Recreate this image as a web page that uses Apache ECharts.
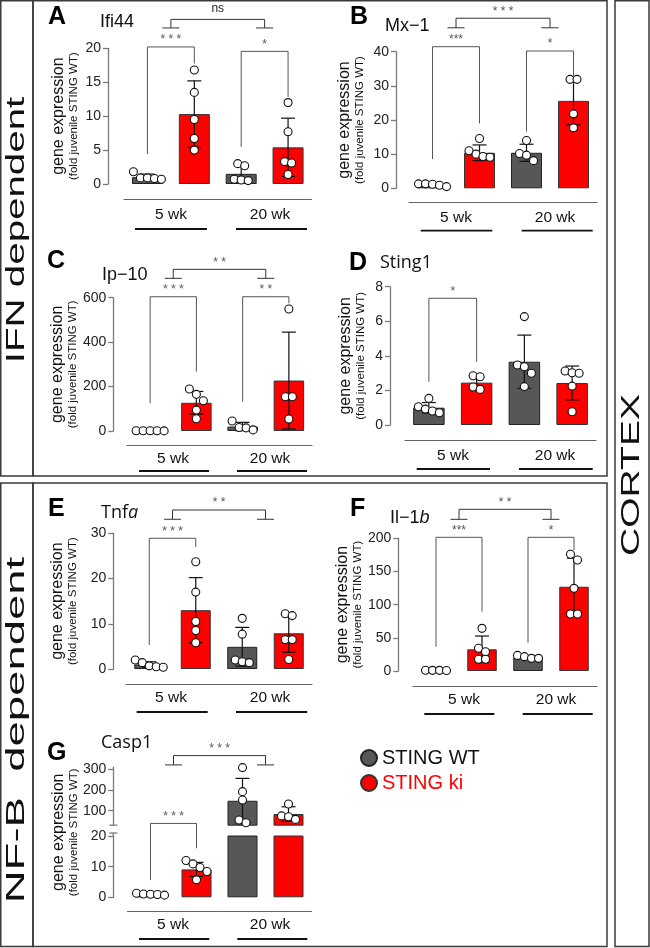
<!DOCTYPE html>
<html><head><meta charset="utf-8">
<script src="https://cdn.jsdelivr.net/npm/echarts@6/dist/echarts.min.js"></script>
<style>html,body{margin:0;padding:0;background:#fff}#c{width:650px;height:948px}</style>
</head><body><div id="c"></div>
<script>
// ---------------- DATA ----------------
const groups = ['WT 5 wk', 'ki 5 wk', 'WT 20 wk', 'ki 20 wk'];
const ageLabels = ['5 wk', '20 wk'];
const legendNames = ['STING WT', 'STING ki'];

const ifi44Mean = [1.0, 10.3, 1.5, 5.4];
const ifi44Sd = [0.45, 4.9, 1.2, 4.3];
const ifi44Pts = [[1.8, 0.9, 0.8, 0.7, 0.9], [16.8, 13.5, 9.5, 6.7, 5.0], [3.0, 2.7, 0.5, 0.7, 0.6], [12.0, 7.7, 3.3, 3.1, 1.4]];

const mx1Mean = [1.0, 10.4, 10.4, 25.6];
const mx1Sd = [0.4, 2.3, 2.5, 7.0];
const mx1Pts = [[0.9, 1.3, 1.2, 1.3, 0.5], [14.6, 11.0, 9.1, 10.0, 9.3], [14.0, 10.2, 9.7, 8.1], [31.9, 31.9, 21.8, 17.7]];

const ip10Mean = [1, 127, 20, 227];
const ip10Sd = [0.5, 51, 19, 218];
const ip10Pts = [[0.5, 1.2, 0.8, 1.3, 1.1], [189, 165, 136, 94, 55], [5, 45, 16, 14], [549, 154, 154, 54]];

const sting1Mean = [1.0, 2.45, 3.66, 2.43];
const sting1Sd = [0.3, 0.41, 1.54, 0.98];
const sting1Pts = [[0.71, 1.06, 1.54, 0.81, 0.92], [2.79, 2.85, 2.06, 2.2], [6.27, 3.37, 3.47, 2.99, 2.22], [3.02, 3.12, 2.99, 2.25, 0.77]];

const tnfaMean = [1.0, 13.0, 4.9, 7.9];
const tnfaSd = [0.6, 7.2, 4.3, 4.2];
const tnfaPts = [[2.0, 0.4, 1.4, 0.5, 0.7], [23.7, 17.0, 10.5, 8.5, 5.8], [11.2, 7.7, 1.6, 2.0, 1.4], [12.2, 11.8, 6.5, 6.5, 2.1]];

const il1bMean = [1, 32.7, 20, 127];
const il1bSd = [0.3, 20, 2.5, 43];
const il1bPts = [[0.8, 1.2, 1.0, 1.0], [64.3, 29.1, 34.2, 17.6, 17.6], [19.1, 23.5, 21.6, 19.1], [175.9, 167.3, 124.6, 85.9, 85.9]];

const casp1Mean = [1.0, 9.1, 148, 84];
const casp1Sd = [0.3, 2.3, 108, 35];
const casp1Pts = [[0.7, 1.0, 1.3, 1.1, 0.9], [10.9, 12.0, 9.7, 8.4, 5.7], [308, 192, 152, 42, 55], [132, 58, 71, 75]];

// significance annotations (values in data units)
const ifi44Sig = [
  {kind: 'pair', a: 0, b: 1, top: 20.2, la: 4.4, lb: 17.75, label: '* * *'},
  {kind: 'pair', a: 2, b: 3, top: 19.55, la: 5.5, lb: 12.8, label: '*'},
  {kind: 'T', a: [0, 1], b: [2, 3], base: 23.0, top: 24.26, label: 'ns'}];
const mx1Sig = [
  {kind: 'pair', a: 0, b: 1, top: 41.46, la: 8.58, lb: 19.0, label: '***'},
  {kind: 'pair', a: 2, b: 3, top: 40.2, la: 16.6, lb: 32.9, label: '*'},
  {kind: 'T', a: [0, 1], b: [2, 3], base: 47.0, top: 49.8, label: '* * *'}];
const ip10Sig = [
  {kind: 'pair', a: 0, b: 1, top: 604.4, la: 124.7, lb: 266.9, label: '* * *'},
  {kind: 'pair', a: 2, b: 3, top: 604.4, la: 131.9, lb: 574.7, label: '* *'},
  {kind: 'T', a: [0, 1], b: [2, 3], base: 687.2, top: 727.7, label: '* *'}];
const sting1Sig = [
  {kind: 'pair', a: 0, b: 1, top: 7.33, la: 2.5, lb: 3.66, label: '*'}];
const tnfaSig = [
  {kind: 'pair', a: 0, b: 1, top: 28.9, la: 5.3, lb: 27.0, label: '* * *'},
  {kind: 'T', a: [0, 1], b: [2, 3], base: 33.1, top: 35.15, label: '* *'}];
const il1bSig = [
  {kind: 'pair', a: 0, b: 1, top: 201.5, la: 36.6, lb: 89.4, label: '***'},
  {kind: 'pair', a: 2, b: 3, top: 201.5, la: 42.7, lb: 182.4, label: '*'},
  {kind: 'T', a: [0, 1], b: [2, 3], base: 228.6, top: 243.7, label: '* *'}];
const casp1SigLow = [
  {kind: 'pair', a: 0, b: 1, top: 24.1, la: 5.6, lb: 16.0, label: '* * *'}];
const casp1SigHigh = [
  {kind: 'T', a: [0, 1], b: [2, 3], base: 321, top: 366, label: '* * *'}];

// ---------------- STYLE / LAYOUT ----------------
const FONT = '"Liberation Sans", Arial, Helvetica, sans-serif';
const FONT2 = '"Open Sans", "Liberation Sans", Arial, sans-serif';
const WT_COLOR = '#575757';
const KI_COLOR = '#ff0000';
const AXIS_COLOR = '#7a7a7a';

const panels = [
  {letter: 'A', gene: 'Ifi44', gf: FONT, mean: ifi44Mean, sd: ifi44Sd, pts: ifi44Pts, sig: ifi44Sig, max: 20, step: 5,
   axisX: 108, gl: 124, gr: 311.5, gt: 48.3, gb: 184, xOff: 15.3, bw: 31, nameGap: 27,
   letterPos: [48, 17], genePos: [100, 22], ageY: 215, ageX: [171, 270], ulY: 229, ul: [[135, 207], [236, 307]]},
  {letter: 'B', gene: 'Mx\u22121', gf: FONT, mean: mx1Mean, sd: mx1Sd, pts: mx1Pts, sig: mx1Sig, max: 40, step: 10,
   axisX: 396, gl: 409, gr: 597, gt: 51.7, gb: 188.3, xOff: 14, bw: 31, nameGap: 29,
   letterPos: [350, 17], genePos: [385, 26], ageY: 218, ageX: [456, 555], ulY: 230.7, ul: [[420.7, 492.3], [521.7, 592.7]]},
  {letter: 'C', gene: 'Ip\u221210', gf: FONT, mean: ip10Mean, sd: ip10Sd, pts: ip10Pts, sig: ip10Sig, max: 600, step: 200,
   axisX: 113.3, gl: 127, gr: 312, gt: 297.7, gb: 431, xOff: 14.7, bw: 30.5, nameGap: 33,
   letterPos: [47, 261], genePos: [102, 275], ageY: 459, ageX: [173, 270], ulY: 471, ul: [[139, 209], [237, 307]]},
  {letter: 'D', gene: 'Sting1', gf: FONT2, mean: sting1Mean, sd: sting1Sd, pts: sting1Pts, sig: sting1Sig, max: 8, step: 2,
   axisX: 390, gl: 405, gr: 596, gt: 286.7, gb: 425, xOff: 15.7, bw: 31.5, nameGap: 22,
   letterPos: [349, 263], genePos: [380, 263], ageY: 456, ageX: [453, 555], ulY: 469, ul: [[416.7, 490], [519, 592.7]]},
  {letter: 'E', gene: '{n|Tnf}{i|a}', gf: FONT2, mean: tnfaMean, sd: tnfaSd, pts: tnfaPts, sig: tnfaSig, max: 30, step: 10,
   axisX: 113.3, gl: 126, gr: 312, gt: 533.3, gb: 669, xOff: 15, bw: 30, nameGap: 33,
   letterPos: [48, 509], genePos: [101, 513], ageY: 698, ageX: [171, 270], ulY: 712, ul: [[136.7, 207.7], [236, 307.3]]},
  {letter: 'F', gene: '{n|Il\u22121}{i|b}', gf: FONT, mean: il1bMean, sd: il1bSd, pts: il1bPts, sig: il1bSig, max: 200, step: 50,
   axisX: 398.3, gl: 413, gr: 597, gt: 538.3, gb: 671, xOff: 15, bw: 29.5, nameGap: 31,
   letterPos: [350, 509], genePos: [390, 518], ageY: 700, ageX: [464, 556], ulY: 714, ul: [[424.3, 494.3], [522.7, 592.7]]},
  {letter: 'G', gene: 'Casp1', gf: FONT2, mean: casp1Mean, sd: casp1Sd, pts: casp1Pts, broken: true,
   axisX: 113.3, gl: 127.5, gr: 311.5, xOff: 13.7, bw: 30,
   upper: {min: 30, max: 310, ticks: [100, 200, 300], gt: 767.2, gb: 825.2, groups: [2, 3], sig: casp1SigHigh},
   lower: {max: 20, step: 10, gt: 836, gb: 897.3, groups: [0, 1], sig: casp1SigLow},
   letterPos: [47, 753], genePos: [101, 743], ageY: 925, ageX: [173, 270], ulY: 939, ul: [[139, 209.3], [237.3, 307.3]]}
];

// ---------------- RENDER HELPERS ----------------
function errRender(p) {
  return function (params, api) {
    const k = api.value(0);
    const m = p.mean[k], s = p.sd[k];
    const hi = api.coord([k, m + s]), lo = api.coord([k, Math.max(m - s, 0)]);
    const w = 7, st = {stroke: '#111', lineWidth: 1.2};
    return {type: 'group', children: [
      {type: 'line', shape: {x1: hi[0], y1: hi[1], x2: lo[0], y2: lo[1]}, style: st},
      {type: 'line', shape: {x1: hi[0] - w, y1: hi[1], x2: hi[0] + w, y2: hi[1]}, style: st},
      {type: 'line', shape: {x1: lo[0] - w, y1: lo[1], x2: lo[0] + w, y2: lo[1]}, style: st}
    ]};
  };
}
function ptsRender(p) {
  const step = 7;
  return function (params, api) {
    const k = api.value(0);
    const vals = p.pts[k];
    const cx = api.coord([k, 0])[0];
    const ys = vals.map(v => api.coord([k, v])[1]);
    const order = ys.map((y, i) => i).sort((a, b) => ys[a] - ys[b]);
    const clusters = []; let cur = [];
    order.forEach(i => {
      if (cur.length && ys[i] - ys[cur[cur.length - 1]] >= step) { clusters.push(cur); cur = []; }
      cur.push(i);
    });
    if (cur.length) clusters.push(cur);
    const children = [];
    clusters.forEach(c => c.forEach((i, j) => {
      const dx = (j - (c.length - 1) / 2) * step;
      children.push({type: 'circle', shape: {cx: cx + dx, cy: ys[i], r: 4},
        style: {fill: '#fff', stroke: '#111', lineWidth: 1.1}});
    }));
    return {type: 'group', children: children};
  };
}
function sigText(x, y, label) {
  const isNs = label === 'ns';
  return {type: 'text', style: {text: label, x: x, y: isNs ? y - 11 : y - 7,
    align: 'center', verticalAlign: 'middle', textAlign: 'center', textVerticalAlign: 'middle',
    fontSize: 12, fontFamily: FONT, fill: isNs ? '#222' : '#555'}};
}
function sigRender(list) {
  return function (params, api) {
    const b = list[params.dataIndex];
    const st = {stroke: '#555', lineWidth: 1, fill: null};
    const ch = [];
    if (b.kind === 'pair') {
      const a0 = api.coord([b.a, b.la]), a1 = api.coord([b.a, b.top]);
      const b1 = api.coord([b.b, b.top]), b0 = api.coord([b.b, b.lb]);
      ch.push({type: 'polyline', shape: {points: [a0, a1, b1, b0]}, style: st});
      ch.push(sigText((a1[0] + b1[0]) / 2, a1[1], b.label));
    } else {
      const xa = (api.coord([b.a[0], b.base])[0] + api.coord([b.a[1], b.base])[0]) / 2;
      const xb = (api.coord([b.b[0], b.base])[0] + api.coord([b.b[1], b.base])[0]) / 2;
      const yb = api.coord([b.a[0], b.base])[1], yt = api.coord([b.a[0], b.top])[1];
      const hw = 8.5;
      const st2 = {stroke: '#333', lineWidth: 1, fill: null};
      ch.push({type: 'line', shape: {x1: xa - hw, y1: yb, x2: xa + hw, y2: yb}, style: st2});
      ch.push({type: 'line', shape: {x1: xb - hw, y1: yb, x2: xb + hw, y2: yb}, style: st2});
      ch.push({type: 'polyline', shape: {points: [[xa, yb], [xa, yt], [xb, yt], [xb, yb]]}, style: st2});
      ch.push(sigText((xa + xb) / 2, yt, b.label));
    }
    return {type: 'group', children: ch};
  };
}

// ---------------- OPTION ----------------
const option = {animation: false, grid: [], xAxis: [], yAxis: [], series: [], graphic: [],
  legend: {orient: 'vertical', left: 355, top: 743, itemWidth: 16, itemHeight: 16, itemGap: 5,
    icon: 'circle', selectedMode: false,
    textStyle: {fontSize: 20, fontFamily: FONT},
    data: [{name: legendNames[0], textStyle: {color: '#111'}}, {name: legendNames[1], textStyle: {color: KI_COLOR}}]}};

const nameRich = {
  a: {fontSize: 16, lineHeight: 17, fontFamily: FONT, color: '#111'},
  b: {fontSize: 11.5, lineHeight: 14, fontFamily: FONT, color: '#111'}};
const yName = '{a|gene expression}\n{b|(fold juvenile STING WT)}';

function addGrid(p, gt, gb, yCfg, showX) {
  const gi = option.grid.length;
  option.grid.push({left: p.gl, top: gt, width: p.gr - p.gl, height: gb - gt});
  option.xAxis.push({type: 'category', gridIndex: gi, data: groups, offset: p.xOff,
    axisLine: {show: showX, onZero: false, lineStyle: {color: '#666', width: 1.2}},
    axisTick: {show: false}, axisLabel: {show: false}, splitLine: {show: false}});
  option.yAxis.push(Object.assign({type: 'value', gridIndex: gi, offset: p.gl - p.axisX,
    axisLine: {show: true, lineStyle: {color: AXIS_COLOR, width: 1.3}},
    axisTick: {show: true, length: 5, lineStyle: {color: AXIS_COLOR, width: 1.3}},
    axisLabel: {fontSize: 14, color: '#222', margin: 7, fontFamily: FONT},
    splitLine: {show: false}}, yCfg));
  return gi;
}
function addSeries(gi, p, grpIdx, sig) {
  option.series.push({type: 'bar', name: legendNames[0], xAxisIndex: gi, yAxisIndex: gi, barWidth: p.bw, barGap: '-100%',
    data: p.mean.map((v, k) => k % 2 === 0 ? v : '-'), silent: true,
    itemStyle: {color: WT_COLOR, borderColor: '#222', borderWidth: 1}, z: 2});
  option.series.push({type: 'bar', name: legendNames[1], xAxisIndex: gi, yAxisIndex: gi, barWidth: p.bw, barGap: '-100%',
    data: p.mean.map((v, k) => k % 2 === 1 ? v : '-'), silent: true,
    itemStyle: {color: KI_COLOR, borderColor: '#333', borderWidth: 1}, z: 2});
  option.series.push({type: 'custom', xAxisIndex: gi, yAxisIndex: gi, silent: true, z: 3,
    data: grpIdx.map(k => [k, p.mean[k]]), renderItem: errRender(p)});
  option.series.push({type: 'custom', xAxisIndex: gi, yAxisIndex: gi, silent: true, z: 4,
    data: grpIdx.map(k => [k, p.mean[k]]), renderItem: ptsRender(p)});
  if (sig && sig.length) {
    option.series.push({type: 'custom', xAxisIndex: gi, yAxisIndex: gi, silent: true, z: 5,
      data: sig.map(() => [0, 0]), renderItem: sigRender(sig)});
  }
}
function txt(x, y, text, o) {
  option.graphic.push(Object.assign({type: 'text', x: x, y: y, silent: true,
    style: Object.assign({text: text, fill: '#111', fontFamily: FONT, fontSize: 15,
      align: 'center', verticalAlign: 'middle', textAlign: 'center', textVerticalAlign: 'middle'}, o.style || {})},
    o.el || {}));
}
function line(x1, y1, x2, y2, stroke, w) {
  option.graphic.push({type: 'line', silent: true, shape: {x1: x1, y1: y1, x2: x2, y2: y2}, style: {stroke: stroke, lineWidth: w}});
}

panels.forEach(p => {
  if (!p.broken) {
    const gi = addGrid(p, p.gt, p.gb, {min: 0, max: p.max, interval: p.step,
      name: yName, nameLocation: 'middle', nameGap: p.nameGap, nameRotate: 90,
      nameTextStyle: {rich: nameRich}}, true);
    addSeries(gi, p, [0, 1, 2, 3], p.sig);
  } else {
    const gu = addGrid(p, p.upper.gt, p.upper.gb, {min: p.upper.min, max: p.upper.max,
      axisLabel: {fontSize: 14, color: '#222', margin: 7, fontFamily: FONT, customValues: p.upper.ticks},
      axisTick: {show: true, length: 5, lineStyle: {color: AXIS_COLOR, width: 1.3}, customValues: p.upper.ticks}}, false);
    addSeries(gu, p, p.upper.groups, p.upper.sig);
    const gl = addGrid(p, p.lower.gt, p.lower.gb, {min: 0, max: p.lower.max, interval: p.lower.step}, true);
    addSeries(gl, p, p.lower.groups, p.lower.sig);
    // axis break marks
    line(p.axisX - 4, p.upper.gb, p.axisX + 4, p.upper.gb, AXIS_COLOR, 1.3);
    line(p.axisX - 4, p.lower.gt - 3, p.axisX + 4, p.lower.gt - 3, AXIS_COLOR, 1.3);
    line(p.axisX, p.lower.gt - 3, p.axisX, p.lower.gt, AXIS_COLOR, 1.3);
    // y-axis title spanning both segments
    txt(p.axisX - 47.5, (p.upper.gt + p.lower.gb) / 2, yName, {el: {rotation: Math.PI / 2}, style: {rich: nameRich}});
  }
  // panel letter
  txt(p.letterPos[0], p.letterPos[1], p.letter, {style: {fontSize: 25, fontWeight: 'bold', fill: '#000', align: 'left', textAlign: 'left'}});
  // gene name
  txt(p.genePos[0], p.genePos[1], p.gene, {style: {fontSize: 18, fontFamily: p.gf, fill: '#111', align: 'left', textAlign: 'left',
    rich: {n: {fontSize: 18, fontFamily: p.gf, fill: '#111', color: '#111'}, i: {fontSize: 18, fontFamily: p.gf, fontStyle: 'italic', color: '#111', fill: '#111'}}}});
  // age labels + underlines
  ageLabels.forEach((lab, j) => {
    txt(p.ageX[j], p.ageY, lab, {style: {fontSize: 15.5}});
    line(p.ul[j][0], p.ulY, p.ul[j][1], p.ulY, '#111', 1.8);
  });
});

// frames
function rect(x, y, w, h) {
  option.graphic.push({type: 'rect', silent: true, shape: {x: x, y: y, width: w, height: h},
    style: {fill: 'none', stroke: '#3a3a3a', lineWidth: 1.5}});
}
rect(0.75, 0.75, 32.25, 475.25);
rect(33, 0.75, 574, 475.25);
rect(0.75, 483, 32.25, 463.5);
rect(33, 483, 574, 463.5);
rect(615, 0.75, 34, 945.75);

// side labels
txt(17, 230, 'IFN dependent', {el: {rotation: Math.PI / 2, scaleX: 1.55}, style: {fontSize: 26, fill: '#111'}});
txt(17, 730, 'NF-B  dependent', {el: {rotation: Math.PI / 2, scaleX: 1.75}, style: {fontSize: 26, fill: '#111'}});
txt(632, 475, 'CORTEX', {el: {rotation: Math.PI / 2, scaleX: 1.5}, style: {fontSize: 26, fill: '#111'}});

const chart = echarts.init(document.getElementById('c'), null, {renderer: 'canvas'});
chart.setOption(option);
</script>
</body></html>
